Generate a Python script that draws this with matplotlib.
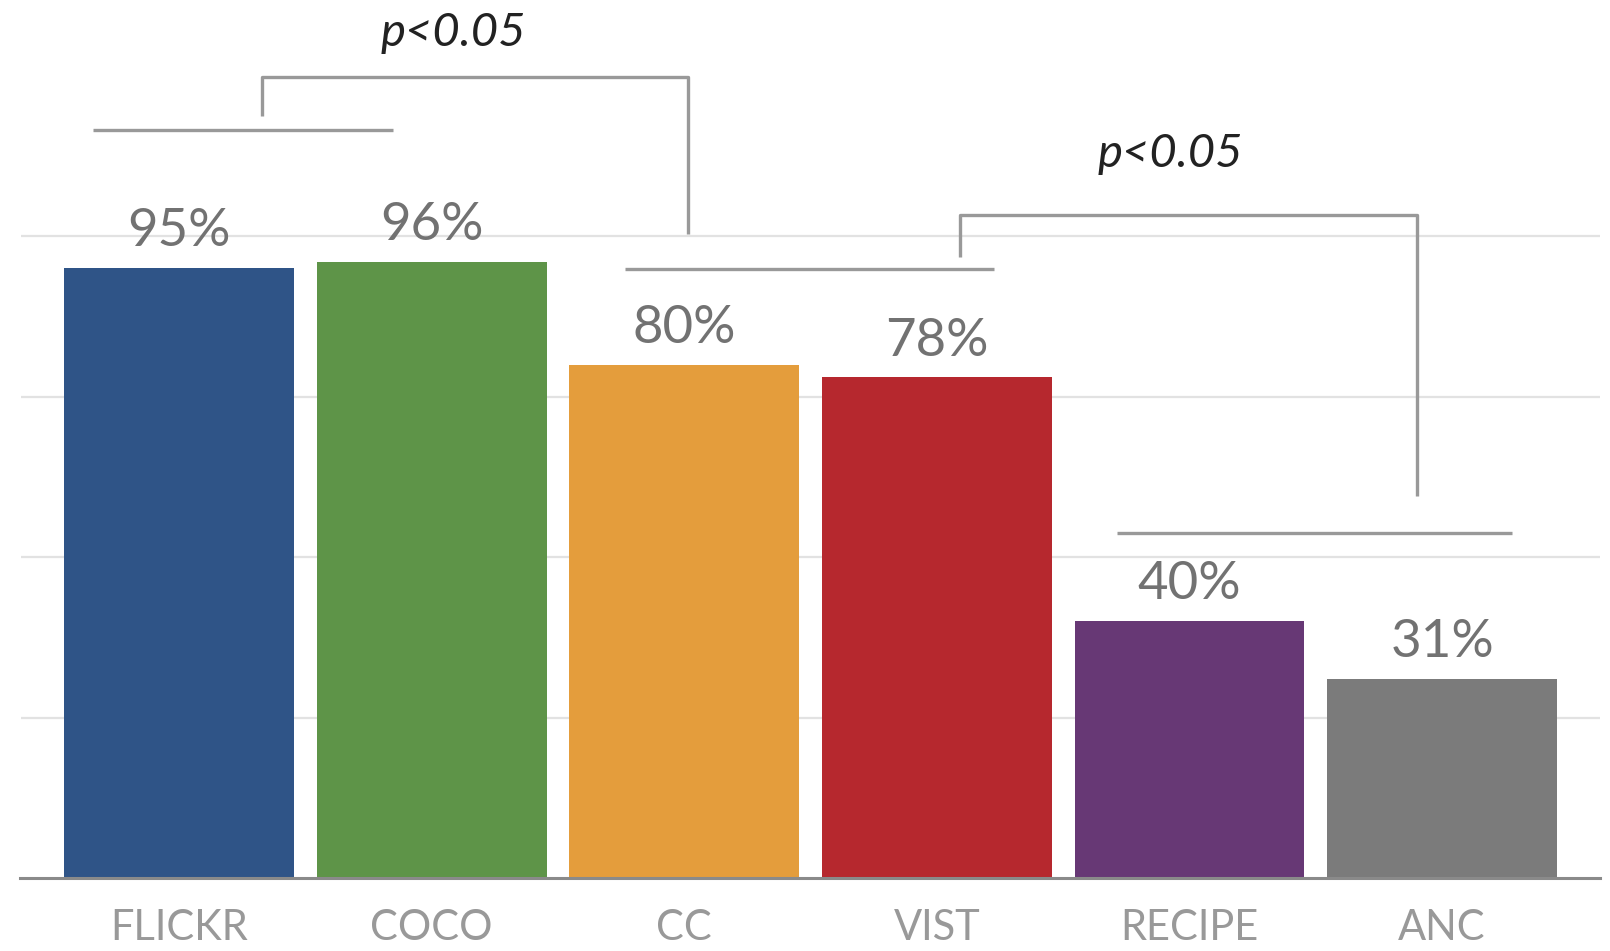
import matplotlib
matplotlib.use("Agg")
import matplotlib.pyplot as plt
import numpy as np

# per-dataset accuracy (%)
datasets = ["FLICKR", "COCO", "CC", "VIST", "RECIPE", "ANC"]
accuracy = [95, 96, 80, 78, 40, 31]
colors = ["#2f5487", "#5e9448", "#e49d3c", "#b6282e", "#673875", "#7b7b7b"]
grid_vals = [25, 50, 75, 100]

FONT = ["Lato", "DejaVu Sans"]

fig = plt.figure(figsize=(16.10, 9.51), dpi=100)
ax = fig.add_axes([20.5 / 1610, 73 / 951, (1600 - 20.5) / 1610, 878 / 951])
ax.set_xlim(-0.628, 5.625)
ax.set_ylim(0, 136.8)

x = np.arange(len(datasets))
for g in grid_vals:
    ax.axhline(g, color="#e2e2e2", lw=1.6, zorder=0)
ax.bar(x, accuracy, width=0.91, color=colors, linewidth=0, zorder=2)

for xi, v in zip(x, accuracy):
    ax.text(xi, v + 3.4, f"{v}%", ha="center", va="baseline", fontsize=38,
            color="#727272", family=FONT)

for s in ["top", "right", "left"]:
    ax.spines[s].set_visible(False)
ax.spines["bottom"].set_color("#8a8a8a")
ax.spines["bottom"].set_linewidth(2.2)
ax.set_yticks([])
ax.set_xticks(x)
ax.set_xticklabels(datasets, fontsize=30, color="#999999", family=FONT)
ax.tick_params(axis="x", length=0, pad=22)

# significance brackets
lk = dict(color="#999999", lw=2.4, solid_capstyle="butt", clip_on=False, zorder=3)
# group lines
ax.plot([-0.34, 0.846], [116.6, 116.6], **lk)
ax.plot([1.765, 3.226], [94.9, 94.9], **lk)
ax.plot([3.713, 5.277], [53.7, 53.7], **lk)
# connectors
ax.plot([0.328, 0.328, 2.014, 2.014], [118.7, 124.8, 124.8, 100.3], **lk)
ax.plot([3.091, 3.091, 4.9, 4.9], [96.7, 103.3, 103.3, 59.5], **lk)

ax.text(1.084, 131.6, "p<0.05", ha="center", va="center", fontsize=34,
        style="italic", color="#222222", family=FONT, clip_on=False)
ax.text(3.926, 112.8, "p<0.05", ha="center", va="center", fontsize=34,
        style="italic", color="#222222", family=FONT)

fig.savefig("out.png", dpi=100)
